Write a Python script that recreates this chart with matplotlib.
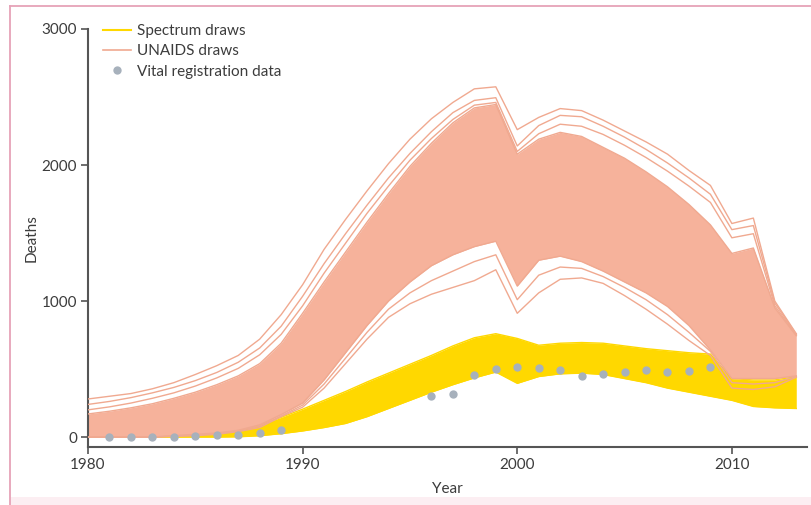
import matplotlib
matplotlib.use("Agg")
import matplotlib.pyplot as plt
from matplotlib.lines import Line2D
from matplotlib.patches import Rectangle

plt.rcParams['font.family'] = ['Lato', 'DejaVu Sans']

# Data
years = list(range(1980, 2014))

# UNAIDS draws: solid core of the band
unaids_core_hi = [170, 190, 215, 245, 285, 330, 385, 450, 540, 690, 910, 1140, 1360, 1580, 1790, 1990, 2160,
                  2310, 2420, 2445, 2080, 2190, 2240, 2210, 2130, 2050, 1950, 1840, 1710, 1560, 1350, 1390, 950, 745]
unaids_core_lo = [0, 0, 0, 0, 10, 20, 30, 50, 90, 165, 250, 420, 620, 820, 1000, 1140, 1260,
                  1340, 1400, 1440, 1110, 1300, 1330, 1290, 1220, 1140, 1060, 960, 820, 640, 430, 430, 430, 450]
# UNAIDS outlying draws
unaids_u1 = [280, 300, 320, 355, 400, 460, 525, 600, 720, 900, 1120, 1380, 1600, 1810, 2010, 2190, 2340,
             2460, 2560, 2575, 2260, 2350, 2415, 2400, 2330, 2250, 2170, 2080, 1960, 1850, 1570, 1610, 1000, 760]
unaids_u2 = [240, 262, 290, 325, 365, 415, 475, 550, 655, 815, 1035, 1275, 1495, 1705, 1905, 2085, 2245,
             2385, 2475, 2495, 2140, 2290, 2365, 2355, 2285, 2205, 2115, 2015, 1905, 1785, 1525, 1555, 985, 755]
unaids_u3 = [200, 222, 250, 285, 325, 375, 435, 505, 605, 755, 965, 1205, 1425, 1645, 1845, 2035, 2195,
             2335, 2440, 2460, 2100, 2230, 2300, 2285, 2225, 2145, 2055, 1955, 1845, 1725, 1465, 1495, 965, 750]
unaids_l2 = [0, 0, 0, 0, 8, 15, 25, 45, 80, 155, 235, 390, 580, 770, 940, 1060, 1150,
             1220, 1290, 1340, 1010, 1190, 1250, 1240, 1180, 1100, 1010, 900, 770, 630, 400, 390, 400, 445]
unaids_l1 = [0, 0, 0, 0, 5, 10, 20, 40, 70, 150, 220, 360, 540, 720, 880, 980, 1050,
             1100, 1150, 1230, 910, 1060, 1160, 1170, 1130, 1040, 940, 830, 710, 600, 360, 350, 370, 440]

# Spectrum draws band
spectrum_hi = [5, 8, 10, 15, 20, 30, 40, 55, 90, 145, 205, 270, 335, 405, 470, 535, 600,
               670, 730, 760, 725, 675, 690, 695, 690, 670, 650, 635, 620, 610, 430, 420, 420, 445]
spectrum_lo = [0, 0, 0, 0, 0, 0, 0, 2, 10, 25, 45, 70, 100, 150, 210, 270, 330,
               385, 435, 478, 395, 445, 465, 470, 460, 430, 400, 360, 330, 300, 270, 225, 215, 210]

# Vital registration data
vr_years = [1981, 1982, 1983, 1984, 1985, 1986, 1987, 1988, 1989,
            1996, 1997, 1998, 1999, 2000, 2001, 2002, 2003, 2004, 2005, 2006, 2007, 2008, 2009]
vr_deaths = [0, 0, 0, 0, 10, 15, 15, 30, 50,
             300, 320, 455, 497, 512, 505, 490, 446, 461, 475, 490, 475, 483, 512]

PINK_FILL = '#F6B29B'
PINK_LINE = '#F0A990'
YELLOW = '#FFD800'
GREY = '#A7B1BC'
TEXT = '#3c3c3c'
AXIS = '#555555'

fig = plt.figure(figsize=(8.12, 5.05), dpi=100)
ax = fig.add_axes([88/812, 1-447/505, (807-88)/812, (447-29)/505])

# Spectrum band
ax.fill_between(years, spectrum_lo, spectrum_hi, color=YELLOW, lw=0, zorder=1)
ax.plot(years, spectrum_hi, color=YELLOW, lw=1, zorder=1)
ax.plot(years, spectrum_lo, color=YELLOW, lw=1, zorder=1)

# UNAIDS band
ax.fill_between(years, unaids_core_lo, unaids_core_hi, color=PINK_FILL, lw=0, zorder=2)
for draw in [unaids_u1, unaids_u2, unaids_u3, unaids_l1, unaids_l2, unaids_core_hi, unaids_core_lo]:
    ax.plot(years, draw, color=PINK_LINE, lw=1, zorder=3)

# Vital registration points
ax.plot(vr_years, vr_deaths, 'o', color=GREY, markersize=6, markeredgewidth=0, zorder=4)

ax.set_xlim(1980, 2013.5)
ax.set_ylim(-73, 3000)
ax.set_xticks([1980, 1990, 2000, 2010])
ax.set_yticks([0, 1000, 2000, 3000])
ax.spines['top'].set_visible(False)
ax.spines['right'].set_visible(False)
for s in ['left', 'bottom']:
    ax.spines[s].set_color(AXIS)
    ax.spines[s].set_linewidth(1.5)
ax.tick_params(colors=AXIS, labelcolor=TEXT, labelsize=11, width=1.2, length=5, pad=3)
ax.set_xlabel('Year', fontsize=11, color=TEXT, labelpad=7)
ax.set_ylabel('Deaths', fontsize=11, color=TEXT, labelpad=2)

handles = [Line2D([], [], color=YELLOW, lw=1.5),
           Line2D([], [], color=PINK_LINE, lw=1.2),
           Line2D([], [], marker='o', ls='none', color=GREY, markersize=6, markeredgewidth=0)]
ax.legend(handles, ['Spectrum draws', 'UNAIDS draws', 'Vital registration data'],
          loc='upper left', bbox_to_anchor=(103/812, 1-24/505), bbox_transform=fig.transFigure,
          frameon=False, borderpad=0, borderaxespad=0, fontsize=11, labelcolor=TEXT,
          handlelength=1.8, handletextpad=0.4, labelspacing=0.42)

# Pink page frame
fig.add_artist(Line2D([10/812, 1], [1-6/505, 1-6/505], transform=fig.transFigure, color='#E6A3B8', lw=1.3))
fig.add_artist(Line2D([10/812, 10/812], [0, 1-6/505], transform=fig.transFigure, color='#E6A3B8', lw=1.3))
fig.add_artist(Rectangle((10/812, 0), 1, 8/505, transform=fig.transFigure, color='#FCEEF2', lw=0, zorder=0))

fig.savefig('out.png', dpi=100)
